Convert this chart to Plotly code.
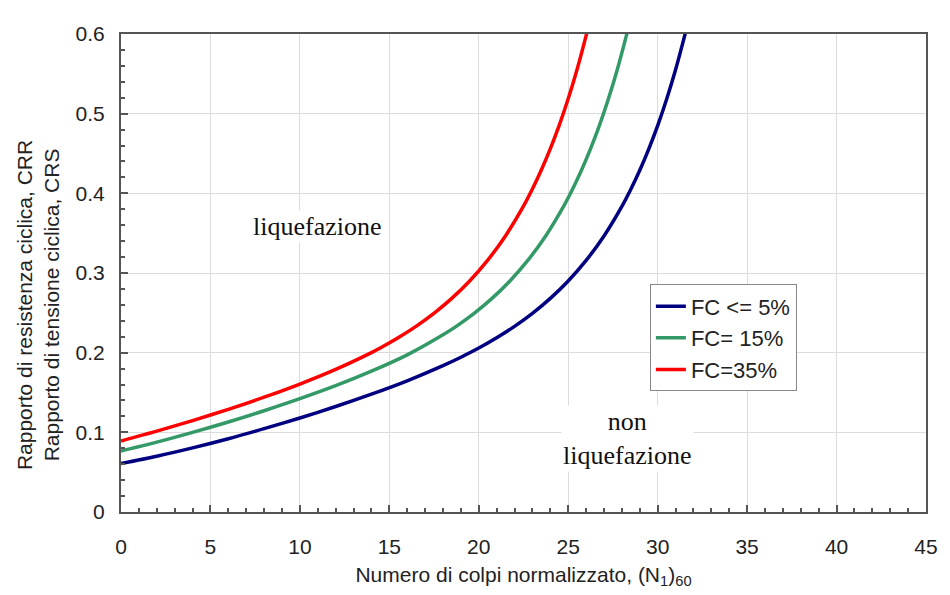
import plotly.graph_objects as go

# Blue: FC <= 5%
n_fc5 = [0, 2, 4, 6, 8, 10, 12, 14, 16, 18, 19, 20, 21, 22, 23, 24, 25, 26, 27, 28, 28.5, 29, 29.5,
         30, 30.5, 31, 31.5, 31.7]
crr_fc5 = [0.0608, 0.0700, 0.0805, 0.0920, 0.1046, 0.1180, 0.1324, 0.1479, 0.1647, 0.1837,
           0.1943, 0.2058, 0.2187, 0.2330, 0.2493, 0.2681, 0.2900, 0.3158, 0.3465, 0.3836,
           0.4051, 0.4289, 0.4554, 0.4849, 0.5180, 0.5551, 0.5970, 0.6150]
# Green: FC = 15%
n_fc15 = [0, 2, 4, 6, 8, 10, 12, 14, 16, 18, 18.74, 19.74, 20.74, 21.74, 22.74, 23.74, 24.74,
          25.24, 25.74, 26.24, 26.74, 27.24, 27.74, 28.24, 28.44]
crr_fc15 = [0.0766, 0.0877, 0.1000, 0.1130, 0.1271, 0.1422, 0.1585, 0.1767, 0.1972, 0.2224,
            0.2330, 0.2493, 0.2681, 0.2900, 0.3158, 0.3465, 0.3836, 0.4051, 0.4289, 0.4554,
            0.4849, 0.5180, 0.5551, 0.5970, 0.6150]
# Red: FC = 35%
n_fc35 = [0, 2, 4, 6, 8, 10, 12, 14, 14.49, 15.49, 16.49, 17.49, 18.49, 19.49, 20.49, 21.49,
          22.49, 22.99, 23.49, 23.99, 24.49, 24.99, 25.49, 25.99, 26.19]
crr_fc35 = [0.0892, 0.1015, 0.1147, 0.1289, 0.1441, 0.1606, 0.1790, 0.2001, 0.2058, 0.2187,
            0.2330, 0.2493, 0.2681, 0.2900, 0.3158, 0.3465, 0.3836, 0.4051, 0.4289, 0.4554,
            0.4849, 0.5180, 0.5551, 0.5970, 0.6150]

names = ["FC <= 5%", "FC= 15%", "FC=35%"]
colors = ["#000080", "#339966", "#ff0000"]

fig = go.Figure()
for xs, ys, nm, c in [(n_fc5, crr_fc5, names[0], colors[0]),
                      (n_fc15, crr_fc15, names[1], colors[1]),
                      (n_fc35, crr_fc35, names[2], colors[2])]:
    fig.add_trace(go.Scatter(x=xs, y=ys, mode="lines", name=nm,
                             line=dict(color=c, width=3.5, shape="spline", smoothing=0.8)))

fig.add_annotation(x=11.0, y=0.358, text="liquefazione", showarrow=False,
                   font=dict(family="Liberation Serif", size=26, color="#111"),
                   bgcolor="white")
fig.add_annotation(x=28.3, y=0.092, text="non<br>liquefazione", showarrow=False,
                   font=dict(family="Liberation Serif", size=26, color="#111"),
                   bgcolor="white", align="center")

# y-axis title (two lines, rotated)
fig.add_annotation(xref="paper", yref="paper", x=-0.1036, y=0.432,
                   xanchor="center", yanchor="middle",
                   text="Rapporto di resistenza ciclica, CRR<br>Rapporto di tensione ciclica, CRS",
                   textangle=-90, showarrow=False, align="center",
                   font=dict(family="Liberation Sans", size=21, color="#222"))

axis_common = dict(showline=True, linecolor="#555", linewidth=2, mirror=True,
                   showgrid=True, gridcolor="#dcdcdc", gridwidth=1,
                   ticks="inside", ticklen=7, tickcolor="#555", tickwidth=1.5,
                   zeroline=False,
                   tickfont=dict(family="Liberation Sans", size=21, color="#222"))

fig.update_xaxes(range=[0, 45], dtick=5, tick0=0, ticklabelstandoff=15,
                 minor=dict(dtick=1, ticks="inside", ticklen=4, tickcolor="#555", showgrid=False),
                 title=dict(text="Numero di colpi normalizzato, (N<sub>1</sub>)<sub>60</sub>",
                            font=dict(family="Liberation Sans", size=21, color="#222"), standoff=10),
                 **axis_common)
fig.update_yaxes(range=[0, 0.6], dtick=0.1, tick0=0, ticklabelstandoff=10,
                 minor=dict(dtick=0.02, ticks="inside", ticklen=4, tickcolor="#555", showgrid=False),
                 **axis_common)

fig.update_layout(
    width=950, height=595,
    margin=dict(l=121, r=18, t=34, b=80),
    plot_bgcolor="white", paper_bgcolor="white",
    showlegend=True,
    legend=dict(x=0.657, y=0.476, xanchor="left", yanchor="top",
                bordercolor="#888", borderwidth=1, bgcolor="white",
                font=dict(family="Liberation Sans", size=22, color="#222"),
                tracegroupgap=0, itemwidth=30),
)

fig.write_html("out.html")
